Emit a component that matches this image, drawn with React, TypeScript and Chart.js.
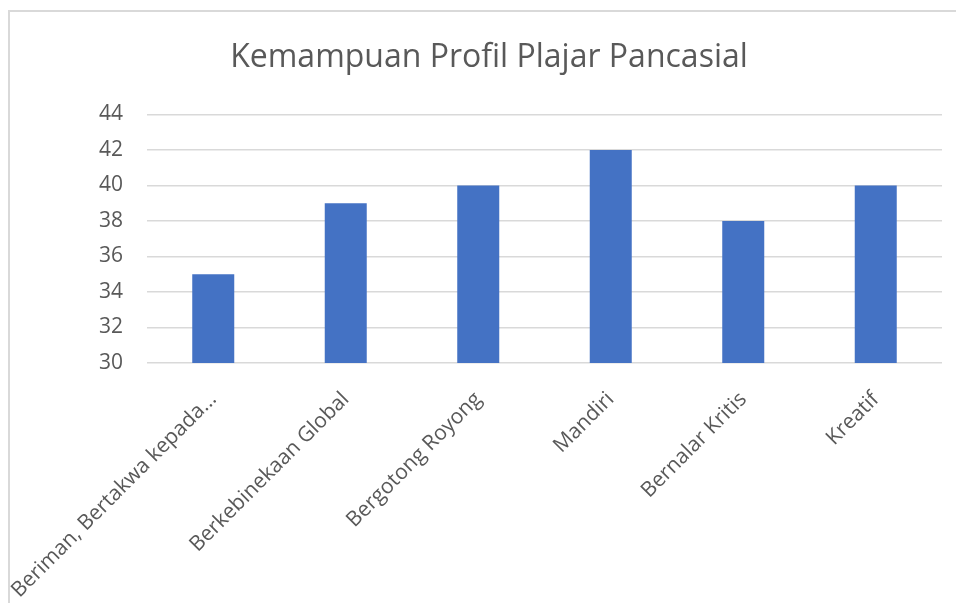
import React, { useEffect, useRef } from "react";
import { Chart, registerables } from "chart.js";

Chart.register(...registerables);

const categories = [
  "Beriman, Bertakwa kepada...",
  "Berkebinekaan Global",
  "Bergotong Royong",
  "Mandiri",
  "Bernalar Kritis",
  "Kreatif",
];
const values = [35, 39, 40, 42, 38, 40];
const yMin = 30;
const yMax = 44;
const yStep = 2;
const title = "Kemampuan Profil Plajar Pancasial";

const FONT = "'Open Sans', 'Noto Sans', sans-serif";
const TEXT = "#595959";
const GRID = "#d9d9d9";

export default function App() {
  const ref = useRef<HTMLCanvasElement | null>(null);

  useEffect(() => {
    if (!ref.current) return;
    const chart = new Chart(ref.current, {
      type: "bar",
      data: {
        labels: categories,
        datasets: [
          {
            data: values,
            backgroundColor: "#4472c4",
            borderWidth: 0,
            categoryPercentage: 0.317,
            barPercentage: 1,
          },
        ],
      },
      options: {
        animation: false,
        responsive: false,
        maintainAspectRatio: false,
        layout: { padding: { top: 27, left: 0, right: 0, bottom: 0 } },
        plugins: {
          legend: { display: false },
          tooltip: { enabled: false },
          title: {
            display: true,
            text: title,
            color: TEXT,
            font: { family: FONT, size: 32, weight: "normal", lineHeight: 1.2 },
            padding: { top: 0, bottom: 37 },
          },
        },
        scales: {
          x: {
            grid: { display: false, drawTicks: false },
            border: { display: false },
            ticks: {
              color: TEXT,
              font: { family: FONT, size: 21 },
              minRotation: 45,
              maxRotation: 45,
              autoSkip: false,
              padding: 24,
            },
            afterFit: (s: any) => {
              s.height = 269;
              s.paddingLeft = 0;
              s.paddingRight = 0;
            },
          },
          y: {
            min: yMin,
            max: yMax,
            grid: { color: GRID, lineWidth: 1.5, drawTicks: false },
            border: { display: false },
            ticks: {
              stepSize: yStep,
              color: TEXT,
              font: { family: FONT, size: 21 },
              padding: 24,
            },
            afterFit: (s: any) => {
              s.width = 137;
              s.paddingTop = 0;
              s.paddingBottom = 0;
            },
          },
          yRight: {
            position: "right",
            display: true,
            grid: { display: false, drawTicks: false },
            border: { display: false },
            ticks: { display: false },
            afterFit: (s: any) => {
              s.width = 26;
              s.paddingTop = 0;
              s.paddingBottom = 0;
            },
          },
        },
      },
    } as any);
    return () => chart.destroy();
  }, []);

  return (
    <div
      style={{
        position: "fixed",
        left: 0,
        top: 0,
        width: 956,
        height: 603,
        overflow: "hidden",
        background: "#ffffff",
      }}
    >
      <div
        style={{
          position: "absolute",
          left: 8,
          top: 10,
          width: 980,
          height: 640,
          border: `2px solid ${GRID}`,
          boxSizing: "border-box",
        }}
      >
        <canvas
          ref={ref}
          width={958}
          height={620}
          style={{ position: "absolute", left: 0, top: 0, width: 958, height: 620 }}
        />
      </div>
    </div>
  );
}
